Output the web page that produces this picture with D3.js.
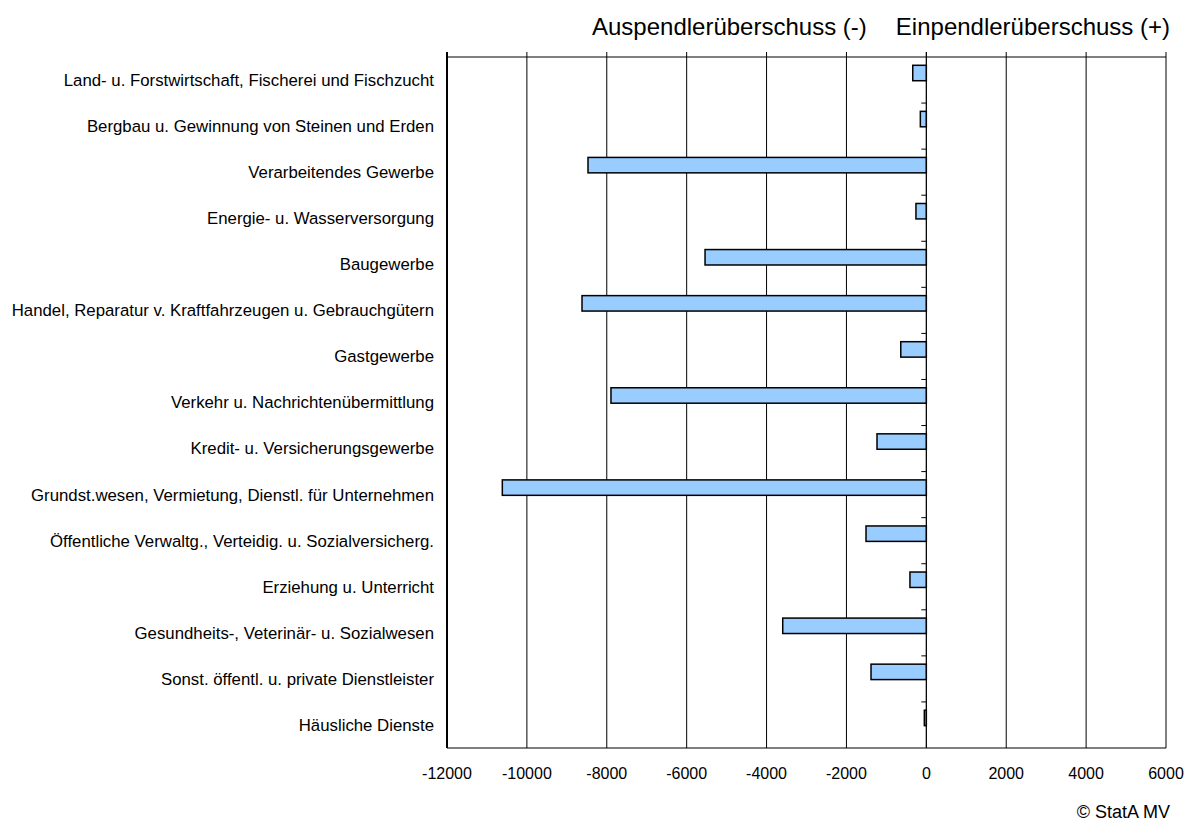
<!DOCTYPE html>
<html>
<head>
<meta charset="utf-8">
<script src="https://cdn.jsdelivr.net/npm/d3@7"></script>
<style>
	body { margin: 0; background: #fff; }
	svg { display: block; font-family: "Liberation Sans", Arial, sans-serif; }
</style>
</head>
<body>
<svg width="1200" height="825"></svg>
<script>
let categories = [
	"Land- u. Forstwirtschaft, Fischerei und Fischzucht",
	"Bergbau u. Gewinnung von Steinen und Erden",
	"Verarbeitendes Gewerbe",
	"Energie- u. Wasserversorgung",
	"Baugewerbe",
	"Handel, Reparatur v. Kraftfahrzeugen u. Gebrauchgütern",
	"Gastgewerbe",
	"Verkehr u. Nachrichtenübermittlung",
	"Kredit- u. Versicherungsgewerbe",
	"Grundst.wesen, Vermietung, Dienstl. für Unternehmen",
	"Öffentliche Verwaltg., Verteidig. u. Sozialversicherg.",
	"Erziehung u. Unterricht",
	"Gesundheits-, Veterinär- u. Sozialwesen",
	"Sonst. öffentl. u. private Dienstleister",
	"Häusliche Dienste"
];
let saldo = [-340, -150, -8470, -260, -5540, -8620, -640, -7895, -1235, -10615, -1510, -410, -3595, -1385, -50];
let xTicks = [-12000, -10000, -8000, -6000, -4000, -2000, 0, 2000, 4000, 6000];
let headLeft = "Auspendlerüberschuss (-)";
let headRight = "Einpendlerüberschuss (+)";
let source = "© StatA MV";

let svg = d3.select("svg"),
	pLeft = 447, pRight = 1166, pTop = 57, pBottom = 748;

let x = d3.scaleLinear().domain([-12000, 6000]).range([pLeft, pRight]);
let y = d3.scaleBand().domain(categories).range([pTop, pBottom]);
let bw = y.bandwidth();

let ggrid = svg.append("g").attr('class','grid');
let gbars = svg.append("g").attr('class','bars');
let gaxis = svg.append("g").attr('class','axis');
let gtext = svg.append("g").attr('class','text');

// vertical grid lines, with small ticks above the frame
ggrid.selectAll("line")
		.data(xTicks.slice(1, -1))
	.enter().append("line")
		.attr("x1", d=> x(d)).attr("x2", d=> x(d))
		.attr("y1", pTop - 5).attr("y2", pBottom)
		.attr("stroke", "#000")
		.attr("stroke-width", 1);

// frame
gaxis.append("line").attr("x1", pLeft).attr("x2", pRight).attr("y1", pTop).attr("y2", pTop)
	.attr("stroke", "#000").attr("stroke-width", 1.2);
gaxis.append("line").attr("x1", pLeft).attr("x2", pRight).attr("y1", pBottom).attr("y2", pBottom)
	.attr("stroke", "#000").attr("stroke-width", 1.2);
gaxis.append("line").attr("x1", pRight).attr("x2", pRight).attr("y1", pTop - 5).attr("y2", pBottom)
	.attr("stroke", "#000").attr("stroke-width", 1);
gaxis.append("line").attr("x1", pLeft).attr("x2", pLeft).attr("y1", pTop - 5).attr("y2", pBottom)
	.attr("stroke", "#000").attr("stroke-width", 2);

gbars.selectAll("rect")
		.data(saldo)
	.enter().append("rect")
		.attr("x", d=> x(Math.min(0, d)))
		.attr("width", d=> Math.abs(x(d) - x(0)))
		.attr("y", (d, i)=> y(categories[i]) + bw * 0.18)
		.attr("height", bw * 0.335)
		.attr("fill", "#99ccff")
		.attr("stroke", "#000")
		.attr("stroke-width", 1.5);

// zero axis with category ticks
gaxis.append("line").attr("x1", x(0)).attr("x2", x(0)).attr("y1", pTop - 5).attr("y2", pBottom)
	.attr("stroke", "#000").attr("stroke-width", 1);
gaxis.selectAll("line.cat")
		.data(categories.slice(1))
	.enter().append("line")
		.attr("class", "cat")
		.attr("x1", x(0) - 5).attr("x2", x(0))
		.attr("y1", d=> y(d)).attr("y2", d=> y(d))
		.attr("stroke", "#000");

gtext.selectAll("text.cat")
		.data(categories)
	.enter().append("text")
		.attr("class", "cat")
		.attr("x", 434)
		.attr("y", d=> y(d) + bw / 2)
		.attr("dy", "0.35em")
		.attr("text-anchor", "end")
		.attr("font-size", 16.8)
		.text(d=> d);

gtext.selectAll("text.tick")
		.data(xTicks)
	.enter().append("text")
		.attr("class", "tick")
		.attr("x", d=> x(d))
		.attr("y", 773)
		.attr("dy", "0.35em")
		.attr("text-anchor", "middle")
		.attr("font-size", 16)
		.text(d=> d);

gtext.append("text").attr("x", 592).attr("y", 27).attr("dy", "0.35em")
	.attr("font-size", 24).text(headLeft);
gtext.append("text").attr("x", 1170).attr("y", 27).attr("dy", "0.35em")
	.attr("text-anchor", "end").attr("font-size", 24).text(headRight);
gtext.append("text").attr("x", 1170).attr("y", 812).attr("dy", "0.35em")
	.attr("text-anchor", "end").attr("font-size", 18).text(source);
</script>
</body>
</html>
